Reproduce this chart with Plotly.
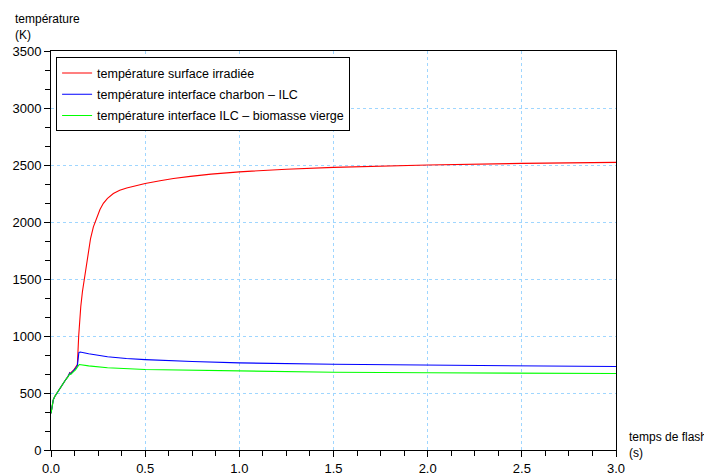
import plotly.graph_objects as go

# Data
t_red = [0, 0.005, 0.012, 0.02, 0.03, 0.045, 0.06, 0.075, 0.09, 0.1, 0.105, 0.11, 0.12, 0.13, 0.14,
         0.147, 0.152, 0.158, 0.167, 0.177, 0.187, 0.198, 0.21, 0.225, 0.243, 0.26, 0.278, 0.3,
         0.331, 0.365, 0.402, 0.45, 0.5, 0.579, 0.65, 0.74, 0.85, 1.0, 1.25, 1.5, 1.75, 2.0, 2.5, 3.0]
T_red = [322, 390, 440, 470, 497, 540, 572, 610, 645, 678, 670, 685, 700, 722, 750,
         1000, 1130, 1257, 1390, 1500, 1625, 1750, 1855, 1958, 2046, 2110, 2164, 2207,
         2250, 2278, 2299, 2320, 2338, 2362, 2382, 2400, 2420, 2440, 2463, 2479, 2491, 2500, 2514, 2523]

t_blue = [0, 0.005, 0.012, 0.02, 0.03, 0.045, 0.06, 0.075, 0.09, 0.1, 0.105, 0.11, 0.12, 0.13, 0.14,
          0.148, 0.155, 0.2, 0.25, 0.3, 0.4, 0.5, 0.75, 1.0, 1.5, 2.0, 2.5, 3.0]
T_blue = [322, 390, 440, 470, 497, 540, 572, 610, 645, 676, 668, 682, 697, 715, 740,
          855, 860, 845, 830, 818, 803, 793, 776, 764, 752, 744, 738, 732]

t_green = [0, 0.005, 0.012, 0.02, 0.03, 0.045, 0.06, 0.075, 0.09, 0.1, 0.105, 0.11, 0.12, 0.13, 0.14,
           0.15, 0.2, 0.3, 0.5, 1.0, 1.5, 2.0, 2.5, 3.0]
T_green = [322, 390, 440, 470, 497, 540, 572, 610, 642, 668, 664, 675, 688, 703, 722,
           750, 738, 722, 706, 691, 682, 677, 674, 671]

names = ["température surface irradiée",
         "température interface charbon – ILC",
         "température interface ILC – biomasse vierge"]
colors = ["#ff0000", "#0000ff", "#00ff00"]

x_ticks = [0.0, 0.5, 1.0, 1.5, 2.0, 2.5, 3.0]
x_ticklabels = ["0.0", "0.5", "1.0", "1.5", "2.0", "2.5", "3.0"]
y_ticks = [0, 500, 1000, 1500, 2000, 2500, 3000, 3500]

font = "Liberation Sans, Arial, Helvetica, sans-serif"

fig = go.Figure()
for i, (tx, ty, nm, c) in enumerate([(t_red, T_red, names[0], colors[0]),
                                      (t_blue, T_blue, names[1], colors[1]),
                                      (t_green, T_green, names[2], colors[2])]):
    fig.add_trace(go.Scatter(x=tx, y=ty, mode="lines", name=nm, legendgroup=f"g{i}",
                             line=dict(color=c, width=1.1)))

axis_common = dict(
    showline=True, linecolor="black", linewidth=1, mirror=True,
    ticks="outside", ticklen=6, tickcolor="black", tickwidth=1,
    showgrid=True, gridcolor="#9fd6ff", griddash="dot", gridwidth=1,
    zeroline=False, automargin=False,
    tickfont=dict(family=font, size=13, color="black"),
)

fig.update_xaxes(range=[0, 3.0], tickvals=x_ticks, ticktext=x_ticklabels,
                 minor=dict(dtick=0.125, tick0=0, ticks="outside", ticklen=5,
                            tickcolor="black", showgrid=False),
                 **axis_common)
fig.update_yaxes(range=[0, 3500], tickvals=y_ticks,
                 minor=dict(dtick=500/3, tick0=0, ticks="outside", ticklen=5,
                            tickcolor="black", showgrid=False),
                 **axis_common)

# The page body adds an 8 px offset; the figure is sized to fill the rest of the window.
fig.update_layout(
    width=704, height=467,
    margin=dict(l=43, r=96, t=43, b=25, autoexpand=False),
    paper_bgcolor="white", plot_bgcolor="white",
    font=dict(family=font, size=12, color="black"),
    showlegend=True,
    legend=dict(x=0.009, y=0.984, xanchor="left", yanchor="top",
                bgcolor="white", bordercolor="black", borderwidth=1,
                font=dict(family=font, size=12.5, color="black"),
                tracegroupgap=2),
    annotations=[
        dict(text="température<br>(K)", xref="paper", yref="paper",
             x=-38/565, y=1 + 41/399, xanchor="left", yanchor="top",
             showarrow=False, align="left",
             font=dict(family=font, size=12, color="black")),
        dict(text="temps de flash<br>(s)", xref="paper", yref="paper",
             x=1 + 11/565, y=22/399, xanchor="left", yanchor="top",
             showarrow=False, align="left",
             font=dict(family=font, size=12, color="black")),
    ],
)

fig.write_html("out.html")
